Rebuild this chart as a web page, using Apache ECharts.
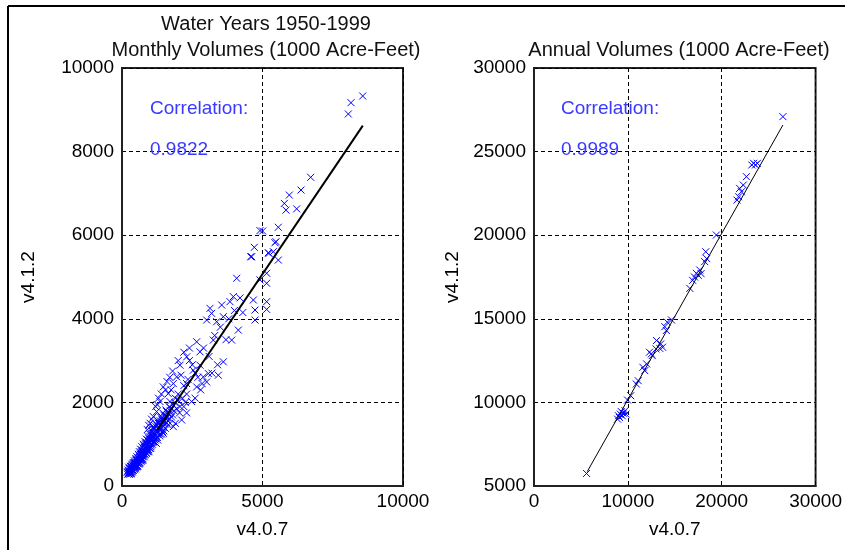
<!DOCTYPE html>
<html>
<head>
<meta charset="utf-8">
<title>v4.0.7 vs v4.1.2</title>
<script src="https://cdn.jsdelivr.net/npm/echarts@6/dist/echarts.min.js"></script>
<style>
  html, body { margin: 0; padding: 0; background: #fff; }
  #chart { width: 845px; height: 550px; }
</style>
</head>
<body>
<div id="chart"></div>
<script>
// monthly volumes [v4.0.7, v4.1.2]
const monthlyPoints = [
  [180,330],[220,380],[250,300],[260,420],[290,360],[300,470],[320,400],[340,330],[350,520],[370,450],
  [380,390],[400,560],[410,480],[430,420],[440,600],[460,530],[470,470],[490,650],[500,560],[520,500],
  [530,700],[550,610],[560,540],[580,760],[590,660],[600,580],[620,820],[640,700],[650,620],[660,880],
  [680,760],[700,660],[710,940],[730,820],[750,700],[760,1000],[780,880],[800,740],[820,1060],[840,940],
  [860,800],[870,1120],[900,1000],[920,860],[930,1180],[950,1060],[980,920],[990,1240],[1010,1120],[1040,980],
  [1050,1320],[1080,1180],[1100,1040],[1120,1400],[1150,1250],[1180,1100],[1200,1480],[1230,1320],[1260,1160],[1280,1560],
  [1310,1400],[1350,1240],[1370,1650],[1400,1480],[1440,1300],[1460,1740],[1500,1560],[1540,1380],[1560,1820],[1600,1650],
  [1650,1460],[1680,1900],[230,300],[270,330],[310,290],[240,450],[330,470],[360,380],[420,520],[450,450],
  [480,410],[510,620],[540,470],[570,600],[610,640],[630,540],[670,620],[690,820],[720,740],[740,620],
  [770,780],[790,960],[810,820],[850,1020],[880,860],[910,1100],[940,940],[960,820],[1000,1040],[1020,900],
  [1060,1100],[1090,1260],[1130,1160],[1160,1380],[1190,1200],[1220,1020],[1250,1460],[1290,1280],[1330,1500],[1380,1360],
  [1420,1580],[1480,1420],[1520,1700],[1580,1520],[1620,1760],[1700,1600],[1750,1850],[1800,1700],
  [200,280],[210,350],[240,330],[260,280],[280,400],[290,320],[310,430],[320,350],[330,300],[350,410],
  [360,490],[370,340],[390,440],[400,370],[410,530],[420,460],[440,390],[450,560],[460,480],[480,540],
  [490,440],[500,610],[510,520],[530,460],[540,650],[550,560],[560,480],[570,680],[580,590],[600,520],
  [610,720],[620,620],[640,560],[650,760],[660,670],[680,590],[690,780],[700,720],[710,620],[720,860],
  [740,760],[750,650],[760,900],[770,830],[790,700],[800,920],[810,860],[830,760],[840,1000],[850,890],
  [870,780],[880,1040],[890,940],[910,820],[920,1080],[930,990],[950,870],[960,1130],[970,1030],[990,900],
  [1000,1180],[1010,1080],[1030,940],[1040,1230],[1060,1140],[1080,1000],[1090,1300],[1110,1200],[1130,1060],[1140,1360],
  [1170,1260],[1190,1140],[1210,1420],[1240,1280],[1270,1100],[1290,1500],[1320,1350],[1340,1200],[1360,1560],[1390,1420],
  [1410,1240],[1430,1640],[1460,1500],[1490,1320],[1510,1680],[1550,1480],[1590,1780],[1630,1560],[1660,1720],[1720,1800],
  [1760,1650],[1800,1950],[1850,1800],[1880,2000],[1950,1850],[2000,2050],[2050,1750],[2150,2100],[2250,2000],[2300,2450],
  [900,1350],[950,1450],[1000,1500],[1050,1600],[1200,1900],[1300,2100],[1250,1950],[1400,2200],[1550,2300],[1600,2500],
  [1700,2600],[1800,2750],[2000,3000],[2200,3200],[2400,3300],[1900,1500],[2300,1750],[2600,2100],[2800,2300],[3200,2700],
  [3400,2900],
  [1115,1660],[1233,1780],[1352,2020],[1470,1260],[1589,1620],[1708,2020],[1826,1420],[2123,1580],[2064,1900],[2479,2020],
  [1648,2210],[1470,2370],[1826,2450],[1946,2610],[3013,2490],[2657,2370],[3428,2650],[2894,2610],[3072,2690],[2776,2890],
  [2538,2770],[2064,2890],[2302,3090],[2776,3210],[3250,3490],[2657,3450],[3606,2970],[3903,3490],[4140,3730],[3013,3970],
  [3369,3930],[3606,4050],[3191,4130],[3132,4250],[3547,4330],[3843,4410],[3962,4530],[4733,3970],[4733,4210],[5148,4225],
  [5148,4410],[4674,4450],[4911,4930],[5148,4850],[5148,5090],[4081,4970],[5563,5405],[5231,5565],[4614,5485],[4580,5485],
  [2000,2200],[2200,2400],[2100,2650],[2350,2550],[2500,2900],[2600,2700],[2400,3000],[2900,3300],[3100,3100],[2850,2450],
  [2200,1900],[1900,2100],[1750,2300],[2300,2200],[2700,2600],[3300,3600],[3500,3800],[3700,3500],[4000,4200],[4200,4500],
  [3800,4000],[4300,4150],
  [5385,5605],[4709,5710],[5444,5820],[5005,6100],[4911,6110],[5563,6190],[5836,6600],[6216,6630],[5777,6760],[5954,6960],
  [6370,7080],[6715,7385],[5206,5580],[5480,5845],[8054,8900],[8150,9170],[8566,9330]
];

// annual volumes [v4.0.7, v4.1.2]
const annualPoints = [
  [5600,5750],
  [8900,9000],[9000,9200],[9100,9100],[9200,9300],[9300,9450],[9400,9200],[9500,9350],[9700,9500],[9800,9300],
  [9965,10140],[10300,10400],[10900,11100],[11100,11300],[11600,12100],[11800,11900],[12000,12300],[12300,13000],[12500,12900],
  [12600,12800],[13000,13200],[13050,13700],[13400,13230],[13500,13500],[13700,13300],[13940,14530],[14100,14300],[14200,14800],
  [14650,14930],
  [16600,16820],[16900,17300],[17100,17500],[17300,17720],[17500,17600],[17660,17920],[17800,17700],[18190,18420],[18300,19010],
  [18400,18600],
  [19430,20010],
  [21630,22100],[21800,22300],[21910,22800],[22100,22600],[22300,23000],[22630,23500],[23200,24200],[23400,24300],[23600,24200],
  [23800,24300],
  [26520,27090]
];

// fitted lines, end points
const monthlyFit = [[1250,1340],[8570,8620]];
const annualFit = [[5670,5860],[26520,26590]];

const monthlyCorr = '0.9822';
const annualCorr = '0.9989';

const xTicksMonthly = { min: 0, max: 10000, interval: 5000 };
const yTicksMonthly = { min: 0, max: 10000, interval: 2000 };
const xTicksAnnual = { min: 0, max: 30000, interval: 10000 };
const yTicksAnnual = { min: 5000, max: 30000, interval: 5000 };

const font = 'Liberation Sans, Arial, sans-serif';
const blue = '#0000ff';
const crossSymbol = 'path://M0,0L10,10M10,0L0,10';

let chart = echarts.init(document.getElementById('chart'), null, { renderer: 'canvas' });

function makeAxis(ticks, gridIndex, name, nameGap, isY) {
  return {
    type: 'value',
    gridIndex: gridIndex,
    min: ticks.min,
    max: ticks.max,
    interval: ticks.interval,
    name: name,
    nameLocation: 'middle',
    nameGap: nameGap,
    nameRotate: isY ? 90 : 0,
    nameTextStyle: { color: '#000', fontSize: 19, fontFamily: font },
    axisLine: { show: true, onZero: false, lineStyle: { color: '#222', width: 2 } },
    axisTick: { show: false },
    axisLabel: {
      color: '#000', fontSize: 19, fontFamily: font, margin: isY ? 8 : 6,
      formatter: v => String(v)
    },
    splitLine: { show: true, lineStyle: { color: '#000', width: 1, type: [4, 3] } }
  };
}

function scatterSeries(data, idx) {
  return {
    type: 'scatter',
    xAxisIndex: idx,
    yAxisIndex: idx,
    data: data,
    symbol: crossSymbol,
    symbolSize: 7,
    itemStyle: { color: blue, borderColor: blue, borderWidth: 1, opacity: 1 },
    silent: true,
    z: 3
  };
}

function fitSeries(data, idx, width) {
  return {
    type: 'line',
    xAxisIndex: idx,
    yAxisIndex: idx,
    data: data,
    symbol: 'none',
    lineStyle: { color: '#000', width: width },
    silent: true,
    z: 4
  };
}

let option = {
  animation: false,
  backgroundColor: '#fff',
  title: [
    { text: 'Water Years 1950-1999', left: 261, top: 9, textAlign: 'center',
      textStyle: { color: '#111', fontSize: 20, fontWeight: 'normal', fontFamily: font } },
    { text: 'Monthly Volumes (1000 Acre-Feet)', left: 261, top: 35, textAlign: 'center',
      textStyle: { color: '#111', fontSize: 20, fontWeight: 'normal', fontFamily: font } },
    { text: 'Annual Volumes (1000 Acre-Feet)', left: 674, top: 35, textAlign: 'center',
      textStyle: { color: '#111', fontSize: 20, fontWeight: 'normal', fontFamily: font } }
  ],
  grid: [
    { left: 122, width: 281, top: 68, height: 418, show: true, borderColor: '#222', borderWidth: 2, backgroundColor: '#fff' },
    { left: 534, width: 282, top: 68, height: 418, show: true, borderColor: '#222', borderWidth: 2, backgroundColor: '#fff' }
  ],
  xAxis: [
    makeAxis(xTicksMonthly, 0, 'v4.0.7', 34, false),
    makeAxis(xTicksAnnual, 1, 'v4.0.7', 34, false)
  ],
  yAxis: [
    makeAxis(yTicksMonthly, 0, 'v4.1.2', 84, true),
    makeAxis(yTicksAnnual, 1, 'v4.1.2', 72, true)
  ],
  graphic: [
    { type: 'line', shape: { x1: 8, y1: 6, x2: 845, y2: 6 }, style: { stroke: '#000', lineWidth: 2 } },
    { type: 'line', shape: { x1: 8, y1: 6, x2: 8, y2: 550 }, style: { stroke: '#000', lineWidth: 2 } },
    { type: 'text', left: 150, top: 99, z: 10,
      style: { text: 'Correlation:', fill: '#3a3aff', fontSize: 19, fontFamily: font } },
    { type: 'text', left: 150, top: 140, z: 10,
      style: { text: monthlyCorr, fill: '#3a3aff', fontSize: 19, fontFamily: font } },
    { type: 'text', left: 561, top: 99, z: 10,
      style: { text: 'Correlation:', fill: '#3a3aff', fontSize: 19, fontFamily: font } },
    { type: 'text', left: 561, top: 140, z: 10,
      style: { text: annualCorr, fill: '#3a3aff', fontSize: 19, fontFamily: font } }
  ],
  series: [
    scatterSeries(monthlyPoints, 0),
    fitSeries(monthlyFit, 0, 2),
    scatterSeries(annualPoints, 1),
    fitSeries(annualFit, 1, 1)
  ]
};

chart.setOption(option);

window.addEventListener('resize', () => {
  if (chart) {
    chart.resize();
  }
});
</script>
</body>
</html>
